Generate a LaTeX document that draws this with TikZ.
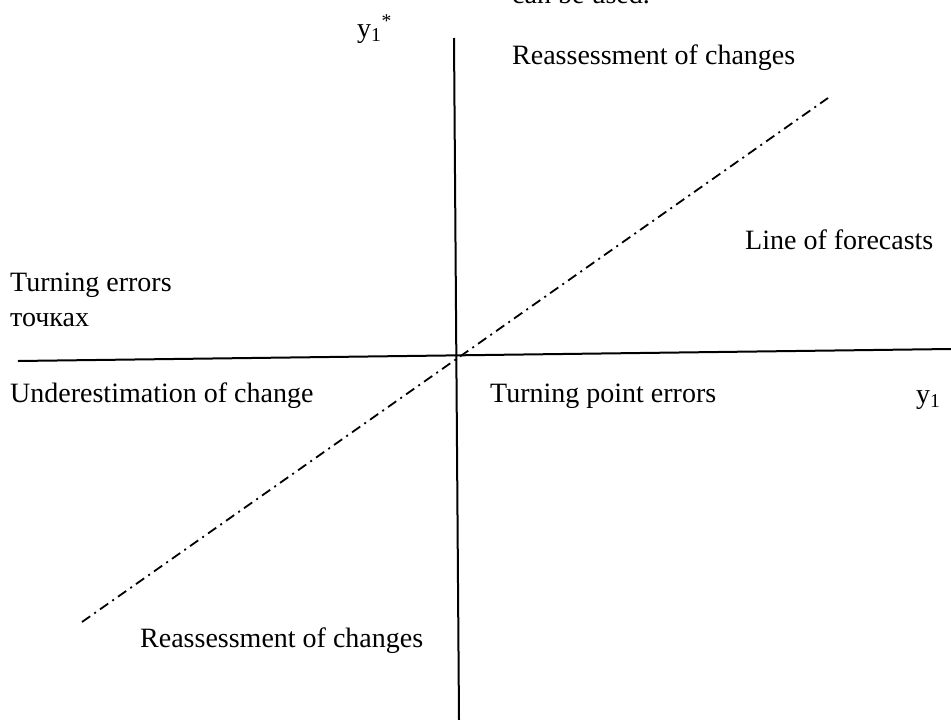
\documentclass[tikz,border=0pt]{standalone}
\usepackage{fontspec}
\setmainfont{Liberation Serif}
\begin{document}
\begin{tikzpicture}[x=1pt,y=-1pt,
  lbl/.style={anchor=base west,inner sep=0pt,font=\fontsize{28}{32}\selectfont},
  axis/.style={line width=2pt,black},
  fcline/.style={line width=1.8pt,black,dash pattern=on 10pt off 5pt on 2pt off 5pt}]
\useasboundingbox (0,0) rectangle (951,720);
% axes
\coordinate (vtop) at (454,38);
\coordinate (vbot) at (459,720);
\coordinate (hl) at (18,361);
\coordinate (hr) at (951,349);
\draw[axis] (vtop) -- (vbot);
\draw[axis] (hl) -- (hr);
% forecast line
\coordinate (fa) at (82,622);
\coordinate (fb) at (828,98);
\draw[fcline] (fa) -- (fb);
% labels
\node[lbl] (cut) at (512,3) {can be used.};
\node[lbl] (ystar) at (357,37) {y\textsubscript{1}\textsuperscript{*}};
\node[lbl] (reTop) at (512,64) {Reassessment of changes};
\node[lbl] (lof) at (745,249) {Line of forecasts};
\node[lbl] (te) at (10,291) {Turning errors};
\node[lbl] (tch) at (10,326) {точках};
\node[lbl] (under) at (10,402) {Underestimation of change};
\node[lbl] (tpe) at (490,402) {Turning point errors};
\node[lbl] (y1) at (916,403) {y\textsubscript{1}};
\node[lbl] (reBot) at (140,647) {Reassessment of changes};
\end{tikzpicture}
\end{document}
